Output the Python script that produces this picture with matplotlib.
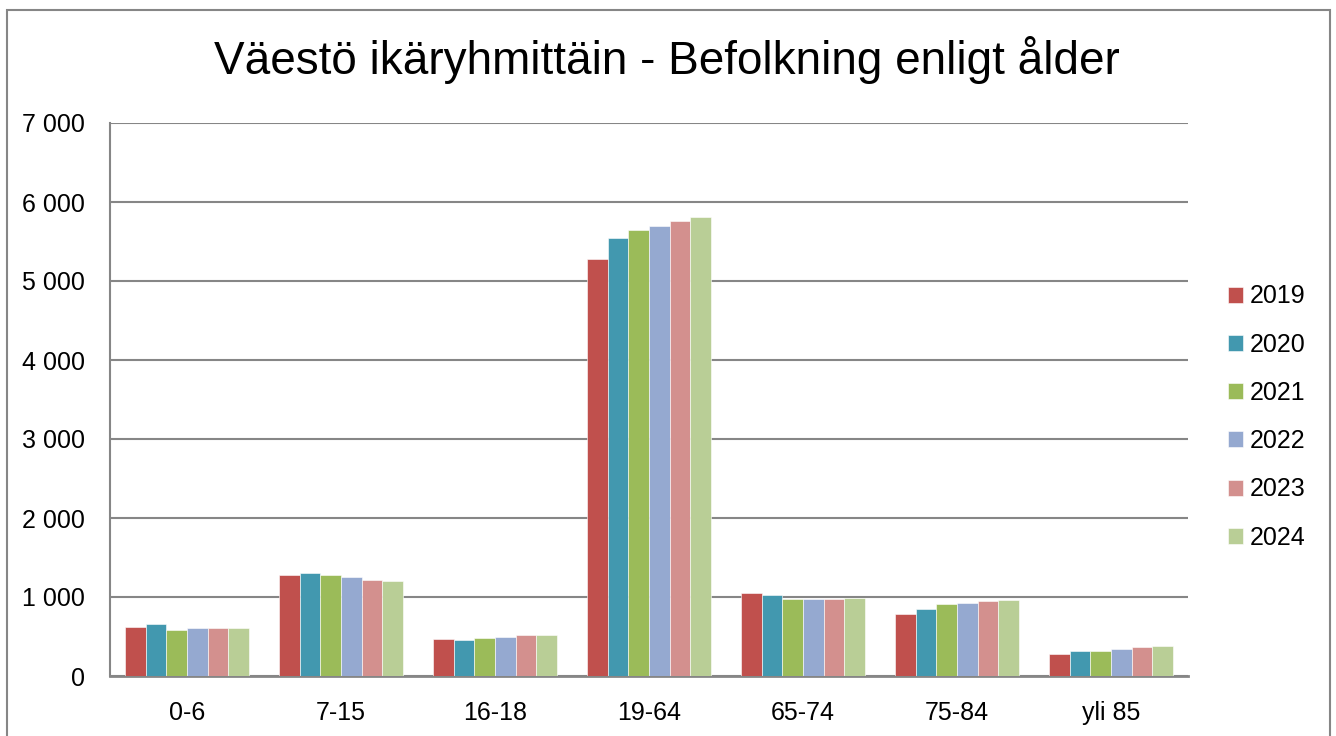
import numpy as np
import matplotlib.pyplot as plt
from matplotlib.patches import Rectangle
from matplotlib.ticker import FuncFormatter, MultipleLocator

# age groups and yearly population counts
groups = ['0-6', '7-15', '16-18', '19-64', '65-74', '75-84', 'yli 85']
years = ['2019', '2020', '2021', '2022', '2023', '2024']
v2019 = [621, 1276, 473, 5276, 1050, 790, 275]
v2020 = [655, 1302, 461, 5539, 1030, 845, 317]
v2021 = [587, 1284, 481, 5640, 975, 912, 317]
v2022 = [605, 1255, 499, 5691, 975, 925, 342]
v2023 = [612, 1213, 515, 5754, 975, 950, 368]
v2024 = [612, 1204, 515, 5805, 983, 963, 380]
series = [v2019, v2020, v2021, v2022, v2023, v2024]
colors = ['#C0504D', '#4298AF', '#9BBB59', '#95A9D0', '#D3908E', '#B9CE96']

plt.rcParams['font.family'] = ['Liberation Sans Narrow', 'Liberation Sans', 'DejaVu Sans']

W, H = 1336, 736
fig = plt.figure(figsize=(W / 100, H / 100), dpi=100)
fig.patches.append(Rectangle((7 / W, -0.05), (1330 - 7) / W, 1 - 10 / H + 0.05,
                             transform=fig.transFigure, fill=False,
                             edgecolor='#868686', linewidth=1.5, zorder=0))

ax = fig.add_axes([110 / W, (H - 676) / H, (1188 - 110) / W, (676 - 123) / H])

x = np.arange(len(groups))
bw = 0.8 / len(series)
for i, (vals, c, yr) in enumerate(zip(series, colors, years)):
    ax.bar(x - 0.4 + bw * (i + 0.5), vals, width=bw, color=c, label=yr,
           edgecolor='white', linewidth=0.4, zorder=3)

ax.set_xlim(-0.5, len(groups) - 0.5)
ax.set_ylim(0, 7000)
ax.yaxis.set_major_locator(MultipleLocator(1000))
ax.yaxis.set_major_formatter(FuncFormatter(lambda v, p: f'{int(v):,}'.replace(',', ' ')))
ax.set_xticks(x)
ax.set_xticklabels(groups)
ax.tick_params(axis='both', length=0, labelsize=18)
ax.tick_params(axis='y', pad=18)
ax.tick_params(axis='x', pad=18)
ax.grid(axis='y', color='#868686', linewidth=1.5, zorder=0)
for s in ['top', 'right']:
    ax.spines[s].set_visible(False)
ax.spines['left'].set_color('#868686')
ax.spines['bottom'].set_color('#868686')
ax.spines['left'].set_linewidth(1.5)
ax.spines['bottom'].set_linewidth(2)

fig.text(667 / W, 1 - 60 / H, 'Väestö ikäryhmittäin - Befolkning enligt ålder',
         ha='center', va='center', fontsize=33)

fig.legend(loc='center left', bbox_to_anchor=(1205 / W, 1 - 417 / H), frameon=False,
           fontsize=18, handlelength=0.6, handleheight=0.6, handletextpad=0.3,
           labelspacing=0.97)

fig.savefig('out.png', dpi=100)
